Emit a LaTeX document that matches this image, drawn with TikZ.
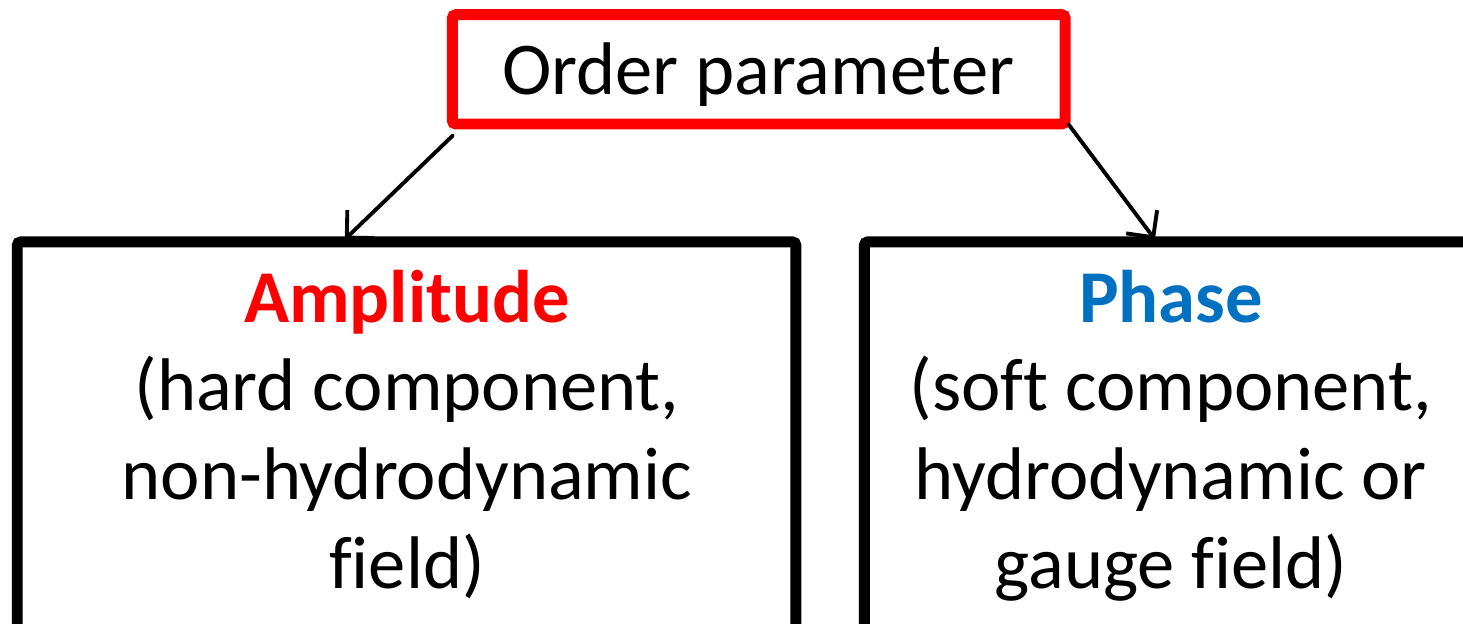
\documentclass[tikz,border=0pt]{standalone}
\usepackage{fontspec}
\setmainfont{Carlito}[Ligatures=CommonOff]
\usetikzlibrary{arrows.meta,calc}
\definecolor{ored}{RGB}{255,0,0}
\definecolor{oblue}{RGB}{0,112,192}
\tikzset{
  boxframe/.style={draw=black, line width=3.1pt, rounded corners=1pt, inner sep=0pt},
  redframe/.style={boxframe, draw=ored},
  label/.style={align=center, inner sep=0pt, font=\fontsize{21.2}{25.2}\selectfont},
  conn/.style={line width=1.1pt, line cap=round, -{Straight Barb[length=5.5pt,width=11pt,line width=1.1pt]}}
}
\begin{document}
\begin{tikzpicture}[x=0.01cm,y=-0.01cm]
\useasboundingbox (0,0) rectangle (1463,624);
\clip (0,0) rectangle (1463,624);
\node[redframe, minimum width=6.125cm, minimum height=1.093cm] (top) at (758.75,69.35) {};
\node[label, anchor=base] (toptext) at (758,94) {Order parameter};
\node[boxframe, minimum width=7.782cm, minimum height=4.2cm] (left) at (406.6,452) {};
\node[boxframe, minimum width=6.13cm, minimum height=4.2cm] (right) at (1171,452) {};
\node[label, anchor=base] (ltext) at (407,588) {\textbf{\textcolor{ored}{Amplitude}}\\(hard component,\\non-hydrodynamic\\field)};
\node[label, anchor=base] (rtext) at (1171,588) {\textbf{\textcolor{oblue}{Phase}}\\(soft component,\\hydrodynamic or\\gauge field)};
\coordinate (a1) at ($(top.south west)+(6,6)$);
\coordinate (a2) at ($(left.north west)+(333,3)$);
\coordinate (b1) at ($(top.south east)+(-2,-5)$);
\coordinate (b2) at ($(right.north west)+(296,3)$);
\draw[conn] (a1) -- (a2);
\draw[conn] (b1) -- (b2);
\end{tikzpicture}
\end{document}
